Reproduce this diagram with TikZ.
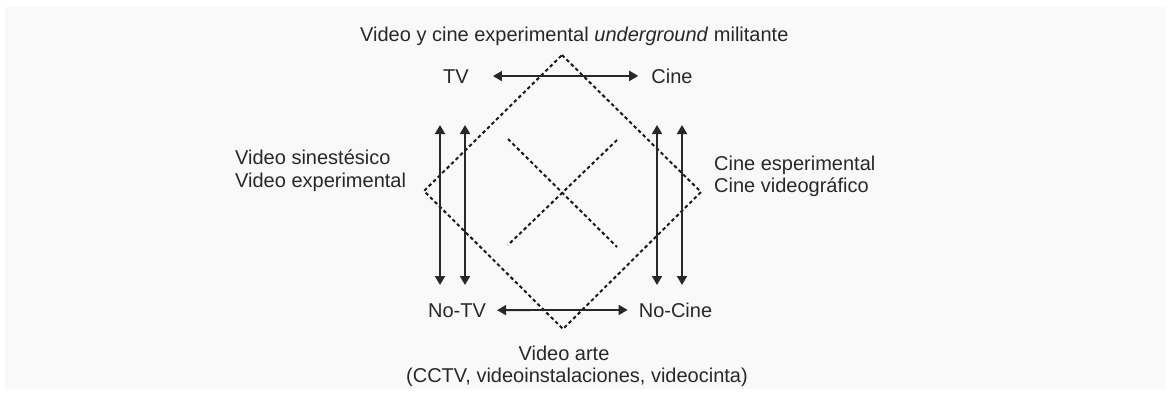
\documentclass[tikz,border=0pt]{standalone}
\usepackage{fontspec}
\setmainfont{Liberation Sans}
\usetikzlibrary{arrows.meta}
\definecolor{ink}{RGB}{40,40,40}
\definecolor{panel}{RGB}{249,249,249}
\tikzstyle{lbl}=[inner sep=0pt,text=ink,font=\fontsize{20}{23}\selectfont]
\tikzstyle{twoway}=[draw=ink,line width=1.8pt,{Triangle[length=9pt,width=10pt]}-{Triangle[length=9pt,width=10pt]}]
\tikzstyle{dashline}=[draw=black!90,line width=2pt,dash pattern=on 3.5pt off 2.8pt]

\begin{document}
\begin{tikzpicture}[x=1pt,y=-1pt]
		\useasboundingbox (0,0) rectangle (1171,394);
		\fill[panel] (5,7) rectangle (1166,389);

		\node (title) at (360,41) [lbl,anchor=base west] {Video y cine experimental \textit{underground} militante};
		\node (tv) at (456,83) [lbl,anchor=base] {TV};
		\node (cine) at (672,83) [lbl,anchor=base] {Cine};
		\node (notv) at (457,317) [lbl,anchor=base] {No-TV};
		\node (nocine) at (675.5,317) [lbl,anchor=base] {No-Cine};
		\node (izq) at (235,187) [lbl,anchor=base west,align=left] {Video sinestésico\\Video experimental};
		\node (der) at (714,192) [lbl,anchor=base west,align=left] {Cine esperimental\\[-1pt]Cine videográfico};
		\node (arte) at (564,360) [lbl,anchor=base] {Video arte};
		\node (artesub) at (577,382) [lbl,anchor=base] {(CCTV, videoinstalaciones, videocinta)};

		% rombo
		\coordinate (dtop) at (562,55);
		\coordinate (dleft) at (424,191);
		\coordinate (dright) at (701,192);
		\coordinate (dbot) at (563,329);
		\draw[dashline] (dtop)--(dright)--(dbot)--(dleft)--cycle;

		% cruz
		\coordinate (x1) at (508,139);
		\coordinate (x2) at (617,247);
		\coordinate (x3) at (617,140);
		\coordinate (x4) at (508,245);
		\draw[dashline] (x1)--(x2);
		\draw[dashline] (x3)--(x4);

		\draw[twoway,shorten <=24pt,shorten >=13pt] (tv)--(cine);
		\draw[twoway,shorten <=11pt,shorten >=11pt] (notv)--(nocine);

		% flechas verticales
		\coordinate (a1) at (440,125); \coordinate (b1) at (440,285);
		\coordinate (a2) at (465,125); \coordinate (b2) at (465,285);
		\coordinate (a3) at (657,125); \coordinate (b3) at (657,285);
		\coordinate (a4) at (682,125); \coordinate (b4) at (682,285);
		\draw[twoway] (a1)--(b1);
		\draw[twoway] (a2)--(b2);
		\draw[twoway] (a3)--(b3);
		\draw[twoway] (a4)--(b4);
\end{tikzpicture}
\end{document}
